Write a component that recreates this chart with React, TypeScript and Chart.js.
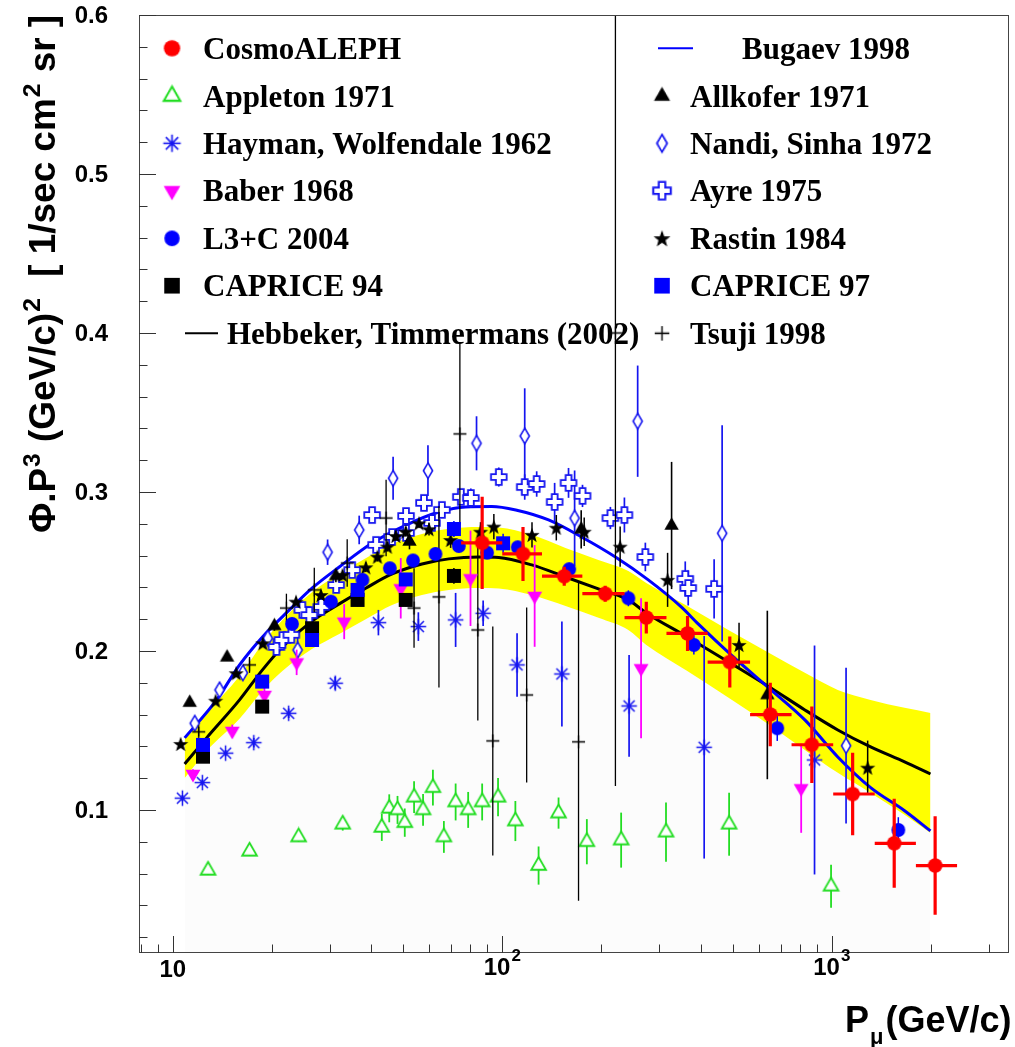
import React, { useEffect, useRef } from 'react';
import { Chart, registerables } from 'chart.js';

Chart.register(...registerables);

// ---------------- DATA ----------------
// CosmoALEPH
const cosmoP = [86.9, 115.6, 154.2, 205.3, 273.6, 365, 490.4, 650.7, 869.9, 1157, 1547, 2059];
const cosmoPhi = [0.268, 0.261, 0.247, 0.236, 0.221, 0.211, 0.193, 0.160, 0.141, 0.110, 0.079, 0.065];
const cosmoErr = [0.029, 0.017, 0.006, 0.005, 0.010, 0.011, 0.016, 0.020, 0.024, 0.026, 0.028, 0.031];
const cosmoPLo = [75, 100, 132, 175, 235, 315, 420, 565, 755, 1010, 1350, 1800];
const cosmoPHi = [100, 132, 175, 235, 315, 420, 565, 755, 1010, 1350, 1800, 2400];

// Appleton 1971
const appP = [12.8, 17.1, 24.1, 32.8, 43.1, 45.4, 48.1, 50.6, 54.0, 57.5, 61.6, 66.5, 72.2, 78.8, 86.9, 97.1, 109.6, 128.9, 148.2, 180.6, 229.5, 314, 488, 995];
const appPhi = [0.062, 0.074, 0.083, 0.091, 0.089, 0.101, 0.100, 0.092, 0.108, 0.100, 0.114, 0.083, 0.105, 0.100, 0.105, 0.108, 0.093, 0.065, 0.098, 0.080, 0.081, 0.086, 0.091, 0.052];
const appErr = [0.003, 0.003, 0.003, 0.004, 0.0085, 0.0088, 0.0088, 0.0089, 0.010, 0.010, 0.0113, 0.010, 0.0116, 0.0113, 0.0116, 0.012, 0.0126, 0.012, 0.0098, 0.0142, 0.0173, 0.0186, 0.0198, 0.0135];

// Hayman, Wolfendale 1962
const hayP = [10.7, 12.3, 14.47, 17.62, 22.48, 31.12, 42.09, 55.64, 72.19, 87.5, 110.9, 151.7, 242.6, 410, 886.5];
const hayPhi = [0.1074, 0.1172, 0.1357, 0.1423, 0.1608, 0.1797, 0.2178, 0.2153, 0.2195, 0.2237, 0.1912, 0.1855, 0.1654, 0.1394, 0.1314];
const hayErr = [0.002, 0.002, 0.002, 0.003, 0.003, 0.004, 0.008, 0.009, 0.017, 0.008, 0.02, 0.033, 0.032, 0.07, 0.072];

// Baber 1968
const babP = [11.52, 15.16, 18.98, 23.77, 33.14, 49.2, 80.1, 125.4, 263.8, 807.5];
const babPhi = [0.1226, 0.1497, 0.1723, 0.1928, 0.2184, 0.2394, 0.2457, 0.2346, 0.1891, 0.1136];
const babErr = [0.003, 0.004, 0.008, 0.008, 0.011, 0.019, 0.03, 0.032, 0.044, 0.028];

// L3+C 2004
const l3cP = [23.02, 30.21, 37.65, 45.58, 53.6, 62.71, 73.85, 89.95, 111.4, 159.7, 241.4, 381.5, 683.2, 1592];
const l3cPhi = [0.217, 0.231, 0.2447, 0.252, 0.2569, 0.261, 0.266, 0.2618, 0.2652, 0.2514, 0.2331, 0.2038, 0.1514, 0.0874];
const l3cErr = [0.003, 0.003, 0.003, 0.003, 0.003, 0.003, 0.003, 0.004, 0.004, 0.004, 0.005, 0.006, 0.008, 0.008];

// CAPRICE 94
const cap94P = [12.35, 18.68, 26.47, 36.37, 50.94, 71.33];
const cap94Phi = [0.1335, 0.165, 0.2143, 0.2321, 0.2321, 0.2472];
const cap94Err = [0.003, 0.003, 0.003, 0.004, 0.004, 0.005];

// CAPRICE 97
const cap97P = [12.35, 18.68, 26.47, 36.37, 50.94, 71.33, 100.6];
const cap97Phi = [0.1409, 0.1807, 0.2069, 0.2384, 0.245, 0.2767, 0.2677];
const cap97Err = [0.003, 0.003, 0.003, 0.004, 0.004, 0.005, 0.006];

// Allkofer 1971
const allP = [11.26, 14.62, 20.35, 31.27, 52.3, 173.6, 326.5, 637.4];
const allPhi = [0.1675, 0.196, 0.2157, 0.2472, 0.2689, 0.2765, 0.2789, 0.1723];
const allErr = [0.002, 0.002, 0.003, 0.004, 0.005, 0.012, 0.04, 0.053];

// Nandi, Sinha 1972
const nanP = [11.66, 13.87, 16.32, 19.43, 23.93, 29.51, 36.8, 46.64, 59.5, 83.55, 117, 165.8, 257.6, 464.8, 1105];
const nanPhi = [0.1545, 0.1755, 0.1862, 0.208, 0.2006, 0.2621, 0.2761, 0.3086, 0.3134, 0.3306, 0.3352, 0.2835, 0.3445, 0.274, 0.1404];
const nanErr = [0.002, 0.002, 0.003, 0.003, 0.01, 0.008, 0.009, 0.0135, 0.016, 0.017, 0.03, 0.03, 0.035, 0.068, 0.049];

// Ayre 1975
const ayrP = [20.64, 21.52, 22.91, 24.74, 25.97, 28.24, 31.33, 35.04, 40.28, 41.42, 46.31, 51.05, 51.05, 57.86, 61.19, 65.6, 74.88, 80.28, 97.6, 117, 127.2, 144.2, 158.9, 175.2, 212.9, 234.8, 271.8, 359.2, 366.7, 439.5];
const ayrPhi = [0.2025, 0.2069, 0.2101, 0.2258, 0.2226, 0.2277, 0.2415, 0.2509, 0.2855, 0.2667, 0.2717, 0.2742, 0.2849, 0.2931, 0.2805, 0.2887, 0.2969, 0.2962, 0.3094, 0.3031, 0.305, 0.2937, 0.3057, 0.2975, 0.2836, 0.2855, 0.2591, 0.2453, 0.2396, 0.239];
const ayrErr = [0.002, 0.002, 0.002, 0.002, 0.002, 0.002, 0.002, 0.003, 0.004, 0.004, 0.004, 0.004, 0.004, 0.004, 0.005, 0.005, 0.005, 0.006, 0.006, 0.008, 0.008, 0.012, 0.0094, 0.007, 0.007, 0.011, 0.009, 0.011, 0.011, 0.0186];

// Rastin 1984
const rasP = [10.57, 13.49, 15.58, 18.76, 23.67, 28.18, 32.75, 38.55, 41.81, 44.81, 47.53, 50.94, 55.91, 59.94, 69.7, 85.9, 94.3, 123.1, 145.9, 177.3, 227.9, 317.5, 523.1, 1285];
const rasPhi = [0.1415, 0.1687, 0.186, 0.2048, 0.231, 0.2352, 0.2478, 0.2526, 0.2593, 0.2656, 0.2723, 0.275, 0.2803, 0.2766, 0.2698, 0.275, 0.2782, 0.273, 0.2775, 0.275, 0.2656, 0.2447, 0.2038, 0.1266];
const rasErr = [0.002, 0.002, 0.002, 0.002, 0.002, 0.002, 0.002, 0.003, 0.003, 0.003, 0.003, 0.003, 0.003, 0.004, 0.005, 0.006, 0.008, 0.008, 0.008, 0.009, 0.0126, 0.017, 0.014, 0.017];

// Tsuji 1998
const tsuP = [11.99, 17.1, 22.13, 26.89, 33.84, 44.41, 53.99, 64.25, 74.37, 84.3, 93.6, 118.6, 170.4, 220.5];
const tsuPhi = [0.1491, 0.1912, 0.227, 0.2384, 0.2553, 0.2836, 0.227, 0.234, 0.3365, 0.2132, 0.1434, 0.1723, 0.1428, 0.40];
const tsuErr = [0.003, 0.005, 0.009, 0.014, 0.015, 0.024, 0.025, 0.057, 0.057, 0.057, 0.072, 0.055, 0.1, 0.285];

// Hebbeker, Timmermans (2002) fit with error band
const htP = [10.87, 12.67, 15.95, 18.72, 21.52, 26.52, 32.01, 38.64, 46.31, 57.07, 68.87, 84.88, 97.6, 122.9, 155.6, 195.8, 241.3, 273.6, 364.3, 491.4, 653.9, 828.4, 1043, 1312, 1663, 1993];
const htPhi = [0.1289, 0.1453, 0.1692, 0.1881, 0.2025, 0.2189, 0.2296, 0.2396, 0.2484, 0.2547, 0.2579, 0.2591, 0.2588, 0.2541, 0.2465, 0.239, 0.2321, 0.2239, 0.2088, 0.1925, 0.1767, 0.1629, 0.1503, 0.1396, 0.1302, 0.1226];
const htUp = [0.1453, 0.161, 0.1843, 0.2045, 0.2195, 0.2371, 0.2485, 0.2585, 0.2673, 0.2736, 0.2768, 0.278, 0.2777, 0.273, 0.2647, 0.2572, 0.2503, 0.2428, 0.2283, 0.2126, 0.1981, 0.1862, 0.1755, 0.1692, 0.1642, 0.161];
const htLo = [0.1201, 0.1371, 0.1573, 0.1749, 0.1874, 0.2013, 0.2107, 0.2201, 0.2289, 0.2352, 0.2384, 0.2396, 0.2393, 0.2352, 0.2283, 0.2208, 0.2132, 0.2038, 0.1874, 0.1699, 0.1528, 0.1377, 0.1233, 0.1107, 0.0969, 0.0855];

// Bugaev 1998
const bugP = [10.87, 13.59, 15.95, 18.72, 22.59, 26.52, 32.01, 40.28, 51.05, 64.25, 77.55, 92.94, 109.9, 138.2, 174.0, 220.5, 277.4, 349.2, 393.1, 494.8, 653.9, 828.4, 1043, 1312, 1663, 1993];
const bugPhi = [0.1453, 0.1692, 0.1912, 0.2088, 0.2258, 0.2396, 0.2528, 0.2679, 0.2792, 0.2874, 0.2906, 0.2909, 0.2887, 0.2824, 0.2717, 0.2591, 0.2447, 0.2277, 0.217, 0.1975, 0.1755, 0.1566, 0.1333, 0.114, 0.0995, 0.0868];

// Axes
const xMin = 7.9;
const xMax = 3450;
const yMin = 0.01;
const yMax = 0.6;
const yTickVals = [0.1, 0.2, 0.3, 0.4, 0.5, 0.6];
const yTickLabels = ['0.1', '0.2', '0.3', '0.4', '0.5', '0.6'];
const xTickVals = [10, 100, 1000];
const xTickBase = ['10', '10', '10'];
const xTickExp = ['', '2', '3'];

// ---------------- STYLE ----------------
const SANS = '"Liberation Sans", Arial, Helvetica, sans-serif';
const SERIF = '"Liberation Serif", "Times New Roman", serif';
const RED = '#ff0000';
const GREEN = '#22dd22';
const BLUE = '#0000ff';
const LBLUE = '#1515f0';
const MAGENTA = '#ff00ff';
const BLACK = '#000000';

function pts(xs: number[], ys: number[]) {
  return xs.map((x, i) => ({ x, y: ys[i] }));
}

function mk(size: number, draw: (c: CanvasRenderingContext2D, m: number) => void): HTMLCanvasElement {
  const cv = document.createElement('canvas');
  cv.width = size;
  cv.height = size;
  const c = cv.getContext('2d') as CanvasRenderingContext2D;
  draw(c, size / 2);
  return cv;
}

function circleM(col: string, r: number) {
  return mk(Math.ceil(2 * r + 2), (c, m) => {
    c.fillStyle = col;
    c.beginPath();
    c.arc(m, m, r, 0, Math.PI * 2);
    c.fill();
  });
}
function triM(col: string, r: number, filled: boolean, lw: number, down: boolean) {
  return mk(Math.ceil(2 * r + 4), (c, m) => {
    const s = down ? -1 : 1;
    c.beginPath();
    c.moveTo(m, m - s * r);
    c.lineTo(m + 0.866 * r, m + (s * r) / 2);
    c.lineTo(m - 0.866 * r, m + (s * r) / 2);
    c.closePath();
    if (filled) {
      c.fillStyle = col;
      c.fill();
    } else {
      c.fillStyle = '#ffffff';
      c.fill();
      c.strokeStyle = col;
      c.lineWidth = lw;
      c.stroke();
    }
  });
}
function asterM(col: string, r: number, lw: number) {
  return mk(Math.ceil(2 * r + 3), (c, m) => {
    c.strokeStyle = col;
    c.lineWidth = lw;
    c.beginPath();
    for (let k = 0; k < 4; k++) {
      const a = (k * Math.PI) / 4;
      c.moveTo(m - r * Math.cos(a), m - r * Math.sin(a));
      c.lineTo(m + r * Math.cos(a), m + r * Math.sin(a));
    }
    c.stroke();
  });
}
function squareM(col: string, h: number) {
  return mk(Math.ceil(2 * h + 2), (c, m) => {
    c.fillStyle = col;
    c.fillRect(m - h, m - h, 2 * h, 2 * h);
  });
}
function diamondM(col: string, hw: number, hh: number, lw: number) {
  return mk(Math.ceil(2 * hh + 4), (c, m) => {
    c.beginPath();
    c.moveTo(m, m - hh);
    c.lineTo(m + hw, m);
    c.lineTo(m, m + hh);
    c.lineTo(m - hw, m);
    c.closePath();
    c.fillStyle = '#ffffff';
    c.fill();
    c.strokeStyle = col;
    c.lineWidth = lw;
    c.stroke();
  });
}
function openCrossM(col: string, a: number, L: number, lw: number) {
  return mk(Math.ceil(2 * L + 4), (c, m) => {
    const p = [
      [-a, -L], [a, -L], [a, -a], [L, -a], [L, a], [a, a],
      [a, L], [-a, L], [-a, a], [-L, a], [-L, -a], [-a, -a],
    ];
    c.beginPath();
    p.forEach(([x, y], i) => (i ? c.lineTo(m + x, m + y) : c.moveTo(m + x, m + y)));
    c.closePath();
    c.fillStyle = '#ffffff';
    c.fill();
    c.strokeStyle = col;
    c.lineWidth = lw;
    c.stroke();
  });
}
function starM(col: string, R: number, r: number) {
  return mk(Math.ceil(2 * R + 2), (c, m) => {
    c.beginPath();
    for (let k = 0; k < 10; k++) {
      const rad = k % 2 === 0 ? R : r;
      const a = -Math.PI / 2 + (k * Math.PI) / 5;
      const x = m + rad * Math.cos(a);
      const y = m + rad * Math.sin(a) + 0.8;
      if (k === 0) c.moveTo(x, y);
      else c.lineTo(x, y);
    }
    c.closePath();
    c.fillStyle = col;
    c.fill();
  });
}
function plusM(col: string, L: number, lw: number) {
  return mk(Math.ceil(2 * L + 2), (c, m) => {
    c.strokeStyle = col;
    c.lineWidth = lw;
    c.beginPath();
    c.moveTo(m - L, m);
    c.lineTo(m + L, m);
    c.moveTo(m, m - L);
    c.lineTo(m, m + L);
    c.stroke();
  });
}

export default function App() {
  const ref = useRef<HTMLCanvasElement>(null);

  useEffect(() => {
    const canvas = ref.current as HTMLCanvasElement;
    const M = {
      cosmo: circleM(RED, 7.3),
      app: triM(GREEN, 8.5, false, 1.8, false),
      hay: asterM(LBLUE, 7.8, 1.5),
      bab: triM(MAGENTA, 8.6, true, 1, true),
      l3c: circleM(BLUE, 6.9),
      cap94: squareM(BLACK, 7),
      cap97: squareM(BLUE, 7),
      all: triM(BLACK, 8.3, true, 1, false),
      nan: diamondM(LBLUE, 4.6, 7.8, 1.6),
      ayr: openCrossM(LBLUE, 2.9, 7.8, 1.8),
      ras: starM(BLACK, 8, 3.3),
      tsu: plusM(BLACK, 6.5, 1.3),
    };

    const ptDs = (label: string, xs: number[], ys: number[], errs: number[], marker: HTMLCanvasElement, errColor: string, errWidth: number, extra: any = {}) => ({
      type: 'line',
      label,
      data: pts(xs, ys),
      showLine: false,
      pointStyle: marker,
      pointRadius: 5,
      pointHoverRadius: 5,
      borderColor: errColor,
      backgroundColor: errColor,
      errY: errs,
      errColor,
      errWidth,
      ...extra,
    });

    const datasets: any[] = [
      ptDs('CosmoALEPH', cosmoP, cosmoPhi, cosmoErr, M.cosmo, RED, 3.2, { errXLo: cosmoPLo, errXHi: cosmoPHi }),
      ptDs('L3+C 2004', l3cP, l3cPhi, l3cErr, M.l3c, BLUE, 1.5),
      ptDs('CAPRICE 97', cap97P, cap97Phi, cap97Err, M.cap97, BLUE, 1.5),
      ptDs('CAPRICE 94', cap94P, cap94Phi, cap94Err, M.cap94, BLACK, 1.5),
      ptDs('Allkofer 1971', allP, allPhi, allErr, M.all, BLACK, 1.6),
      ptDs('Rastin 1984', rasP, rasPhi, rasErr, M.ras, BLACK, 1.5),
      ptDs('Baber 1968', babP, babPhi, babErr, M.bab, MAGENTA, 1.8),
      ptDs('Tsuji 1998', tsuP, tsuPhi, tsuErr, M.tsu, BLACK, 1.3),
      ptDs('Hayman, Wolfendale 1962', hayP, hayPhi, hayErr, M.hay, LBLUE, 1.7),
      ptDs('Ayre 1975', ayrP, ayrPhi, ayrErr, M.ayr, LBLUE, 1.7),
      ptDs('Nandi, Sinha 1972', nanP, nanPhi, nanErr, M.nan, LBLUE, 1.7),
      ptDs('Appleton 1971', appP, appPhi, appErr, M.app, GREEN, 1.8),
      {
        type: 'line', label: 'Bugaev 1998', data: pts(bugP, bugPhi), borderColor: BLUE, borderWidth: 3,
        pointRadius: 0, cubicInterpolationMode: 'monotone', fill: false,
      },
      {
        type: 'line', label: 'Hebbeker, Timmermans (2002)', data: pts(htP, htPhi), borderColor: BLACK, borderWidth: 3,
        pointRadius: 0, cubicInterpolationMode: 'monotone', fill: false,
      },
      {
        type: 'line', label: 'band upper', data: pts(htP, htUp), borderWidth: 0, borderColor: 'rgba(0,0,0,0)',
        backgroundColor: '#ffff00', pointRadius: 0, cubicInterpolationMode: 'monotone', fill: '+1',
      },
      {
        type: 'line', label: 'band lower', data: pts(htP, htLo), borderWidth: 0, borderColor: 'rgba(0,0,0,0)',
        backgroundColor: '#fcfcfc', pointRadius: 0, cubicInterpolationMode: 'monotone', fill: 'start',
      },
    ];

    const errorBars = {
      id: 'errorBars',
      beforeDatasetDraw(chart: any, args: any) {
        const ds = chart.data.datasets[args.index];
        if (!ds.errY) return;
        const xs = chart.scales.x;
        const ys = chart.scales.y;
        const ctx = chart.ctx as CanvasRenderingContext2D;
        const a = chart.chartArea;
        ctx.save();
        ctx.beginPath();
        ctx.rect(a.left, a.top, a.right - a.left, a.bottom - a.top);
        ctx.clip();
        ctx.strokeStyle = ds.errColor;
        ctx.lineWidth = ds.errWidth;
        ds.data.forEach((p: any, i: number) => {
          const px = xs.getPixelForValue(p.x);
          const py = ys.getPixelForValue(p.y);
          const e = ds.errY[i];
          ctx.beginPath();
          ctx.moveTo(px, ys.getPixelForValue(p.y + e));
          ctx.lineTo(px, ys.getPixelForValue(p.y - e));
          if (ds.errXLo) {
            ctx.moveTo(xs.getPixelForValue(ds.errXLo[i]), py);
            ctx.lineTo(xs.getPixelForValue(ds.errXHi[i]), py);
          }
          ctx.stroke();
        });
        ctx.restore();
      },
    };

    const rootFrame = {
      id: 'rootFrame',
      afterDatasetsDraw(chart: any) {
        const ctx = chart.ctx as CanvasRenderingContext2D;
        const a = chart.chartArea;
        const xs = chart.scales.x;
        const ys = chart.scales.y;
        ctx.save();
        ctx.strokeStyle = '#444';
        ctx.lineWidth = 1;
        ctx.strokeRect(a.left + 0.5, a.top + 0.5, a.right - a.left - 1, a.bottom - a.top - 1);
        ctx.strokeStyle = '#333';
        ctx.beginPath();
        for (let k = 1; k <= 30; k++) {
          const v = k * 0.02;
          if (v < yMin || v > yMax + 1e-9) continue;
          const y = Math.round(ys.getPixelForValue(v)) + 0.5;
          const len = k % 5 === 0 ? 17 : 8.5;
          ctx.moveTo(a.left, y);
          ctx.lineTo(a.left + len, y);
        }
        for (let e = 0; e <= 3; e++) {
          for (let m = 1; m <= 9; m++) {
            const v = m * Math.pow(10, e);
            if (v < xMin || v > xMax) continue;
            const x = Math.round(xs.getPixelForValue(v)) + 0.5;
            const len = m === 1 ? 17 : 8.5;
            ctx.moveTo(x, a.bottom);
            ctx.lineTo(x, a.bottom - len);
          }
        }
        ctx.stroke();
        ctx.restore();
      },
      afterDraw(chart: any) {
        const ctx = chart.ctx as CanvasRenderingContext2D;
        const xs = chart.scales.x;
        const ys = chart.scales.y;
        ctx.save();
        ctx.fillStyle = '#000';
        // y tick labels
        ctx.font = `bold 24px ${SANS}`;
        ctx.textAlign = 'right';
        ctx.textBaseline = 'middle';
        yTickVals.forEach((v, i) => {
          ctx.fillText(yTickLabels[i], 108, ys.getPixelForValue(v) + 1);
        });
        // x tick labels
        ctx.textBaseline = 'alphabetic';
        ctx.textAlign = 'left';
        xTickVals.forEach((v, i) => {
          const x = xs.getPixelForValue(v);
          ctx.font = `bold 24px ${SANS}`;
          const wb = ctx.measureText(xTickBase[i]).width;
          ctx.font = `bold 17px ${SANS}`;
          const we = xTickExp[i] ? ctx.measureText(xTickExp[i]).width + 1 : 0;
          const x0 = x - (wb + we) / 2;
          const base = xTickExp[i] ? 975 : 977;
          ctx.font = `bold 24px ${SANS}`;
          ctx.fillText(xTickBase[i], x0, base);
          if (xTickExp[i]) {
            ctx.font = `bold 17px ${SANS}`;
            ctx.fillText(xTickExp[i], x0 + wb + 1, base - 14);
          }
        });
        // x title
        ctx.font = `bold 36px ${SANS}`;
        ctx.fillText('P', 845, 1032);
        const wP = ctx.measureText('P').width;
        ctx.font = `bold 22px ${SANS}`;
        ctx.fillText('μ', 845 + wP + 1, 1044);
        const wMu = ctx.measureText('μ').width;
        ctx.font = `bold 36px ${SANS}`;
        ctx.fillText('(GeV/c)', 845 + wP + wMu + 3, 1032);
        // y title (rotated)
        const pieces: [string, boolean][] = [
          ['Φ.P', false], ['3', true], [' (GeV/c)', false], ['2', true],
          ['  [ 1/sec cm', false], ['2', true], [' sr ]', false],
        ];
        const mainF = `bold 36px ${SANS}`;
        const supF = `bold 24px ${SANS}`;
        let total = 0;
        const ws = pieces.map(([t, s]) => {
          ctx.font = s ? supF : mainF;
          const w = ctx.measureText(t).width + (s ? 2 : 0);
          total += w;
          return w;
        });
        ctx.translate(55, 533);
        ctx.rotate(-Math.PI / 2);
        ctx.scale(518 / total, 1);
        let cx = 0;
        pieces.forEach(([t, s], i) => {
          ctx.font = s ? supF : mainF;
          ctx.fillText(t, cx + (s ? 1 : 0), s ? -15 : 0);
          cx += ws[i];
        });
        ctx.restore();

        // legend
        ctx.save();
        ctx.font = `bold 31px ${SERIF}`;
        ctx.fillStyle = '#000';
        ctx.textAlign = 'left';
        ctx.textBaseline = 'alphabetic';
        const rows = [48.3, 96, 143.3, 190.7, 238.3, 285.7, 333.3];
        const drawM = (cv: HTMLCanvasElement, x: number, y: number) => {
          const s = 1.12;
          ctx.drawImage(cv, x - (cv.width * s) / 2, y - (cv.height * s) / 2, cv.width * s, cv.height * s);
        };
        const left: [string, HTMLCanvasElement][] = [
          [datasets[0].label, M.cosmo], [datasets[11].label, M.app], [datasets[8].label, M.hay],
          [datasets[6].label, M.bab], [datasets[1].label, M.l3c], [datasets[3].label, M.cap94],
        ];
        left.forEach(([t, cv], i) => {
          drawM(cv, 172, rows[i]);
          ctx.fillText(t, 203, rows[i] + 10.5);
        });
        ctx.strokeStyle = '#000';
        ctx.lineWidth = 2;
        ctx.beginPath();
        ctx.moveTo(185, rows[6]);
        ctx.lineTo(218, rows[6]);
        ctx.stroke();
        ctx.fillText(datasets[13].label, 227, rows[6] + 10.5);

        ctx.strokeStyle = BLUE;
        ctx.beginPath();
        ctx.moveTo(658, rows[0]);
        ctx.lineTo(693, rows[0]);
        ctx.stroke();
        ctx.fillText(datasets[12].label, 742, rows[0] + 10.5);
        const right: [string, HTMLCanvasElement][] = [
          [datasets[4].label, M.all], [datasets[10].label, M.nan], [datasets[9].label, M.ayr],
          [datasets[5].label, M.ras], [datasets[2].label, M.cap97], [datasets[7].label, M.tsu],
        ];
        right.forEach(([t, cv], i) => {
          drawM(cv, 662, rows[i + 1]);
          ctx.fillText(t, 690, rows[i + 1] + 10.5);
        });
        ctx.restore();
      },
    };

    const chart = new Chart(canvas, {
      type: 'line',
      data: { datasets },
      options: {
        responsive: false,
        animation: false,
        devicePixelRatio: 1,
        events: [],
        layout: { padding: { left: 139, top: 15, right: 2, bottom: 94 } },
        scales: {
          x: { type: 'logarithmic', min: xMin, max: xMax, display: false },
          y: { type: 'linear', min: yMin, max: yMax, display: false },
        },
        plugins: {
          legend: { display: false },
          tooltip: { enabled: false },
          filler: { propagate: false },
        },
      } as any,
      plugins: [errorBars, rootFrame],
    } as any);

    return () => chart.destroy();
  }, []);

  return (
    <div style={{ position: 'absolute', left: 0, top: 0, width: 1015, height: 1047, background: '#ffffff' }}>
      <canvas ref={ref} width={1015} height={1047} style={{ display: 'block', width: 1015, height: 1047 }} />
    </div>
  );
}
